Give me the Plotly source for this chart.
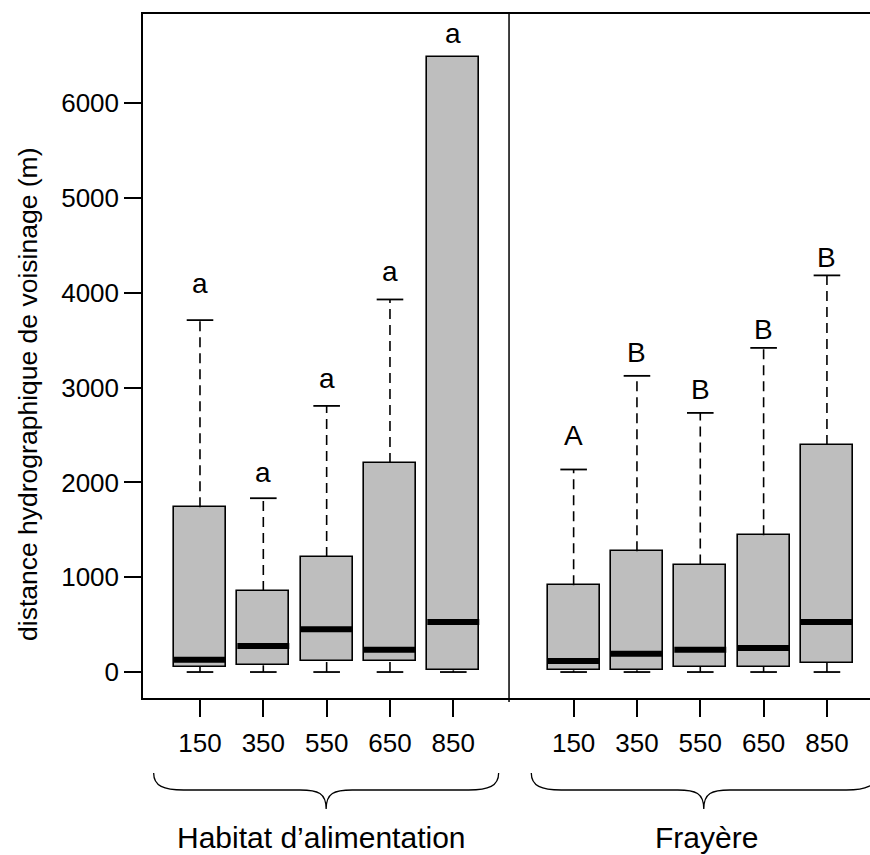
import plotly.graph_objects as go

# ---------------- data ----------------
groups = ["Habitat d’alimentation", "Frayère"]
dist_labels = ["150", "350", "550", "650", "850"]

habitat_lo = [0, 0, 0, 0, 0]
habitat_q1 = [53, 71, 116, 116, 18]
habitat_med = [130, 275, 451, 236, 528]
habitat_q3 = [1739, 855, 1214, 2206, 6485]
habitat_hi = [3713, 1834, 2808, 3931, 6485]
habitat_letters = ["a", "a", "a", "a", "a"]
habitat_letter_y = [4103, 2101, 3100, 4223, 6739]

frayere_lo = [0, 0, 0, 0, 0]
frayere_q1 = [18, 18, 53, 53, 95]
frayere_med = [116, 194, 236, 254, 528]
frayere_q3 = [915, 1274, 1134, 1443, 2396]
frayere_hi = [2137, 3125, 2734, 3420, 4185]
frayere_letters = ["A", "B", "B", "B", "B"]
frayere_letter_y = [2491, 3372, 2981, 3618, 4370]

y_ticks = [0, 1000, 2000, 3000, 4000, 5000, 6000]
y_title = "distance hydrographique de voisinage (m)"

# ---------------- layout constants ----------------
W, H = 870, 855
ML, MR, MT, MB = 143, 0, 14, 157
group_offset = [0.0, 5.9]
box_w = 0.82
cap_w = 0.42
x_range = [-0.9, 10.58]
y_range = [-274, 6943]
divider_pos = 4.88
FONT = "Liberation Sans, Arial, sans-serif"

lo = habitat_lo + frayere_lo
q1 = habitat_q1 + frayere_q1
med = habitat_med + frayere_med
q3 = habitat_q3 + frayere_q3
hi = habitat_hi + frayere_hi
letters = habitat_letters + frayere_letters
letter_y = habitat_letter_y + frayere_letter_y
xs = [group_offset[g] + i for g in range(2) for i in range(len(dist_labels))]
ticktext = dist_labels * 2

fig = go.Figure()

# boxes
fig.add_trace(go.Bar(
    x=xs, y=[b - a for a, b in zip(q1, q3)], base=q1, width=box_w,
    marker=dict(color="#bebebe", line=dict(color="black", width=1.6)),
    showlegend=False, hoverinfo="skip"))

# whiskers (dashed)
wx, wy = [], []
for x, a, b, l, h in zip(xs, q1, q3, lo, hi):
    if h > b:
        wx += [x, x, None]
        wy += [b, h, None]
    if a > l:
        wx += [x, x, None]
        wy += [l, a, None]
fig.add_trace(go.Scatter(x=wx, y=wy, mode="lines",
                         line=dict(color="black", width=1.6, dash="10px,6px"),
                         showlegend=False, hoverinfo="skip"))

# caps
cx, cy = [], []
for x, l, h, b in zip(xs, lo, hi, q3):
    cx += [x - cap_w / 2, x + cap_w / 2, None]
    cy += [l, l, None]
    if h > b:
        cx += [x - cap_w / 2, x + cap_w / 2, None]
        cy += [h, h, None]
fig.add_trace(go.Scatter(x=cx, y=cy, mode="lines",
                         line=dict(color="black", width=1.8),
                         showlegend=False, hoverinfo="skip"))

# medians
mx, my = [], []
for x, m in zip(xs, med):
    mx += [x - box_w / 2, x + box_w / 2, None]
    my += [m, m, None]
fig.add_trace(go.Scatter(x=mx, y=my, mode="lines",
                         line=dict(color="black", width=6),
                         showlegend=False, hoverinfo="skip"))

annotations = []
for x, t, y in zip(xs, letters, letter_y):
    annotations.append(dict(x=x, y=y, xref="x", yref="y", text=t, showarrow=False,
                            font=dict(family=FONT, size=28, color="black"),
                            xanchor="center", yanchor="middle"))

plot_w = W - ML - MR
plot_h = H - MT - MB


def px_to_paper(px, py):
    return (px - ML) / plot_w, (H - MB - py) / plot_h


def data_to_px(x):
    return ML + (x - x_range[0]) / (x_range[1] - x_range[0]) * plot_w


shapes = []
# divider
dxp = (divider_pos - x_range[0]) / (x_range[1] - x_range[0])
shapes.append(dict(type="line", xref="paper", yref="paper", x0=dxp, x1=dxp,
                   y0=-4 / plot_h, y1=1, line=dict(color="black", width=1.5)))

# braces under each group
half = 172.5
for g in range(2):
    c = data_to_px(group_offset[g] + 2.0) - 0.5 + (4 if g == 1 else 0)
    L, R = c - half, c + half
    ye, yh, yp = 773, 790, 809
    pts = [
        ("M", [(L, ye)]),
        ("C", [(L, yh - 4), (L + 10, yh), (L + 30, yh)]),
        ("L", [(c - 26, yh)]),
        ("C", [(c - 8, yh), (c, yh + 3), (c, yp)]),
        ("C", [(c, yh + 3), (c + 8, yh), (c + 26, yh)]),
        ("L", [(R - 30, yh)]),
        ("C", [(R - 10, yh), (R, yh - 4), (R, ye)]),
    ]
    path = ""
    for cmd, plist in pts:
        path += cmd + " " + " ".join("%.5f,%.5f" % px_to_paper(px, py) for px, py in plist) + " "
    shapes.append(dict(type="path", xref="paper", yref="paper", path=path.strip(),
                       line=dict(color="black", width=1.3)))

# group labels
for g, name in enumerate(groups):
    cxp = data_to_px(group_offset[g] + 2.0) + (-5 if g == 0 else 6)
    xp, yp_ = px_to_paper(cxp, 837)
    annotations.append(dict(x=xp, y=yp_, xref="paper", yref="paper", text=name,
                            showarrow=False, xanchor="center", yanchor="middle",
                            font=dict(family=FONT, size=30, color="black")))

# y title
xt, yt = px_to_paper(28, 394)
annotations.append(dict(x=xt, y=yt, xref="paper", yref="paper", text=y_title,
                        textangle=-90, showarrow=False, xanchor="center", yanchor="middle",
                        font=dict(family=FONT, size=26.5, color="black")))

fig.update_layout(
    width=W, height=H,
    margin=dict(l=ML, r=MR, t=MT, b=MB),
    paper_bgcolor="white", plot_bgcolor="white",
    bargap=0, showlegend=False,
    font=dict(family=FONT, color="black"),
    xaxis=dict(range=x_range, tickmode="array", tickvals=xs, ticktext=ticktext,
               ticks="outside", ticklen=17, tickwidth=1.5, tickcolor="black",
               showline=True, linecolor="black", linewidth=1.5, mirror=True,
               showgrid=False, zeroline=False, ticklabelstandoff=4,
               tickfont=dict(family=FONT, size=26, color="black")),
    yaxis=dict(range=y_range, tickmode="array", tickvals=y_ticks,
               ticktext=[str(v) for v in y_ticks],
               ticks="outside", ticklen=17, tickwidth=1.5, tickcolor="black",
               showline=True, linecolor="black", linewidth=1.5, mirror=False,
               showgrid=False, zeroline=False,
               tickfont=dict(family=FONT, size=26, color="black")),
    annotations=annotations,
    shapes=shapes,
)

fig.write_html(
    "out.html",
    config={"displayModeBar": False},
    post_script="document.body.style.margin='0';document.body.style.overflow='hidden';",
)
